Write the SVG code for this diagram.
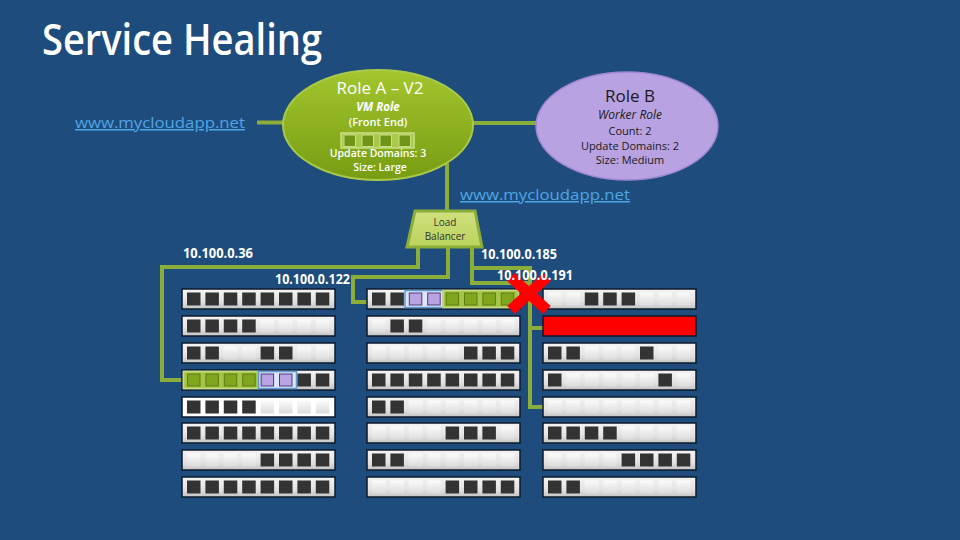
<svg xmlns="http://www.w3.org/2000/svg" xmlns:xlink="http://www.w3.org/1999/xlink" width="960" height="540" viewBox="0 0 960 540">
<defs>
<linearGradient id="rowg" x1="0" y1="0" x2="0" y2="1"><stop offset="0" stop-color="#f4f4f4"/><stop offset="0.6" stop-color="#e4e4e4"/><stop offset="1" stop-color="#c4c4c4"/></linearGradient>
<linearGradient id="emg" x1="0" y1="0" x2="0" y2="1"><stop offset="0" stop-color="#fbfbfb"/><stop offset="1" stop-color="#dcdcdc"/></linearGradient>
<linearGradient id="ag" x1="0" y1="0" x2="0" y2="1"><stop offset="0" stop-color="#a3c62e"/><stop offset="1" stop-color="#779c12"/></linearGradient>
<linearGradient id="lbg" x1="0" y1="0" x2="0" y2="1"><stop offset="0" stop-color="#cfe07e"/><stop offset="1" stop-color="#bcd35c"/></linearGradient>
<rect id="d" width="13.5" height="13" fill="#333333"/>
<rect id="e" width="13.5" height="13" fill="url(#emg)"/>
<rect id="g" width="12.5" height="12" fill="#7fa61c" stroke="#5c7c12" stroke-width="1"/>
<rect id="p" width="12.5" height="12" fill="#b9a3e3" stroke="#4d3a80" stroke-width="1"/>
<rect id="row" width="153" height="20" fill="url(#rowg)" stroke="#0c1a2c" stroke-width="1.5"/>
</defs>
<style>
.t{font-family:"Open Sans","Noto Sans","DejaVu Sans",sans-serif}
.w{fill:#ffffff}
.k{fill:#1a1a1a}
.ip{font-family:"Open Sans","Noto Sans",sans-serif;font-weight:bold;font-size:13.5px;fill:#ffffff}
.url{font-family:"Open Sans","Noto Sans",sans-serif;font-size:15px;fill:#4ea6e6;text-decoration:underline}
.ln{fill:none;stroke:#8bad3a;stroke-width:4}
</style>
<rect width="960" height="540" fill="#1e4c7c"/>
<text class="t w" x="42" y="55" font-size="44" font-weight="600" textLength="280" lengthAdjust="spacingAndGlyphs">Service Healing</text>

<g id="connectors">
<path class="ln" d="M257 122.5 H285"/>
<path class="ln" d="M471 123 H539"/>
<path class="ln" d="M447 163 V212"/>
<path class="ln" d="M418 246 V267 H162 V380 H184"/>
<path class="ln" d="M448 246 V277 H353 V302 H367"/>
<path class="ln" d="M472 246 V283 H530"/>
<path class="ln" d="M472 268 H530 V407 H543"/>
<path class="ln" d="M530 328 H543"/>
</g>

<g id="url-left"><text class="url" x="75" y="128" textLength="170" lengthAdjust="spacingAndGlyphs">www.mycloudapp.net</text></g>
<g id="url-right"><text class="url" x="460" y="200" textLength="170" lengthAdjust="spacingAndGlyphs">www.mycloudapp.net</text></g>

<g id="role-a">
<ellipse cx="378" cy="125" rx="95" ry="55" fill="url(#ag)" stroke="#a9c94a" stroke-width="2"/>
<text class="t w" x="380" y="94" font-size="17" text-anchor="middle">Role A – V2</text>
<text class="t w" x="378" y="111" font-size="11.5" font-weight="bold" font-style="italic" text-anchor="middle">VM Role</text>
<text class="t w" x="378" y="126" font-size="11" font-weight="600" text-anchor="middle">(Front End)</text>
<text class="t w" x="378" y="157" font-size="10.5" font-weight="600" text-anchor="middle">Update Domains: 3</text>
<text class="t w" x="380" y="171" font-size="10.5" font-weight="600" text-anchor="middle">Size: Large</text>
<rect x="341" y="133" width="73" height="15" fill="#a9c94a" stroke="#c9df86" stroke-width="1.5"/>
<rect x="344" y="135" width="11.5" height="11.5" fill="#6f9418" stroke="#c9df86" stroke-width="1"/>
<rect x="362" y="135" width="11.5" height="11.5" fill="#6f9418" stroke="#c9df86" stroke-width="1"/>
<rect x="380" y="135" width="11.5" height="11.5" fill="#6f9418" stroke="#c9df86" stroke-width="1"/>
<rect x="399" y="135" width="11.5" height="11.5" fill="#6f9418" stroke="#c9df86" stroke-width="1"/>
</g>

<g id="role-b">
<ellipse cx="627" cy="126" rx="91" ry="54" fill="#b8a2e2" stroke="#9c86d2" stroke-width="1.5"/>
<text class="t k" x="630" y="102" font-size="17" text-anchor="middle">Role B</text>
<text class="t k" x="630" y="119" font-size="12" font-style="italic" text-anchor="middle">Worker Role</text>
<text class="t k" x="630" y="135" font-size="11" text-anchor="middle">Count: 2</text>
<text class="t k" x="630" y="150" font-size="11" text-anchor="middle">Update Domains: 2</text>
<text class="t k" x="630" y="164" font-size="11" text-anchor="middle">Size: Medium</text>
</g>

<g id="load-balancer">
<polygon points="415,211 475,211 482,247 407,247" fill="url(#lbg)" stroke="#8bad3a" stroke-width="3"/>
<text class="t" x="445" y="226" font-size="10" fill="#333" text-anchor="middle">Load</text>
<text class="t" x="445" y="240" font-size="10" fill="#333" text-anchor="middle">Balancer</text>
</g>

<g id="rack-left" transform="translate(182,0)">
<g transform="translate(0,289)"><use href="#row"/><use href="#d" x="5" y="3.5"/><use href="#d" x="23.4" y="3.5"/><use href="#d" x="41.8" y="3.5"/><use href="#d" x="60.2" y="3.5"/><use href="#d" x="78.6" y="3.5"/><use href="#d" x="97" y="3.5"/><use href="#d" x="115.4" y="3.5"/><use href="#d" x="133.8" y="3.5"/></g>
<g transform="translate(0,316)"><use href="#row"/><use href="#d" x="5" y="3.5"/><use href="#d" x="23.4" y="3.5"/><use href="#d" x="41.8" y="3.5"/><use href="#d" x="60.2" y="3.5"/><use href="#e" x="78.6" y="3.5"/><use href="#e" x="97" y="3.5"/><use href="#e" x="115.4" y="3.5"/><use href="#e" x="133.8" y="3.5"/></g>
<g transform="translate(0,343)"><use href="#row"/><use href="#d" x="5" y="3.5"/><use href="#d" x="23.4" y="3.5"/><use href="#e" x="41.8" y="3.5"/><use href="#e" x="60.2" y="3.5"/><use href="#d" x="78.6" y="3.5"/><use href="#d" x="97" y="3.5"/><use href="#e" x="115.4" y="3.5"/><use href="#e" x="133.8" y="3.5"/></g>
<g transform="translate(0,370)"><use href="#row"/>
<rect x="1.5" y="1.5" width="75" height="17" fill="#a6c548" stroke="#c6dc80" stroke-width="1.5"/>
<rect x="76.5" y="1.5" width="38" height="17" fill="#dde6f4" stroke="#5b9bd5" stroke-width="1.5"/>
<use href="#g" x="5.5" y="4"/><use href="#g" x="23.9" y="4"/><use href="#g" x="42.3" y="4"/><use href="#g" x="60.7" y="4"/><use href="#p" x="79.1" y="4"/><use href="#p" x="97.5" y="4"/><use href="#d" x="115.4" y="3.5"/><use href="#d" x="133.8" y="3.5"/></g>
<g transform="translate(0,397)"><rect width="153" height="20" fill="#ffffff" stroke="#0c1a2c" stroke-width="1.5"/><use href="#d" x="5" y="3.5"/><use href="#d" x="23.4" y="3.5"/><use href="#d" x="41.8" y="3.5"/><use href="#d" x="60.2" y="3.5"/><use href="#e" x="78.6" y="3.5"/><use href="#e" x="97" y="3.5"/><use href="#e" x="115.4" y="3.5"/><use href="#e" x="133.8" y="3.5"/></g>
<g transform="translate(0,423)"><use href="#row"/><use href="#d" x="5" y="3.5"/><use href="#d" x="23.4" y="3.5"/><use href="#d" x="41.8" y="3.5"/><use href="#d" x="60.2" y="3.5"/><use href="#d" x="78.6" y="3.5"/><use href="#d" x="97" y="3.5"/><use href="#d" x="115.4" y="3.5"/><use href="#d" x="133.8" y="3.5"/></g>
<g transform="translate(0,450)"><use href="#row"/><use href="#e" x="5" y="3.5"/><use href="#e" x="23.4" y="3.5"/><use href="#e" x="41.8" y="3.5"/><use href="#e" x="60.2" y="3.5"/><use href="#d" x="78.6" y="3.5"/><use href="#d" x="97" y="3.5"/><use href="#d" x="115.4" y="3.5"/><use href="#d" x="133.8" y="3.5"/></g>
<g transform="translate(0,477)"><use href="#row"/><use href="#d" x="5" y="3.5"/><use href="#d" x="23.4" y="3.5"/><use href="#d" x="41.8" y="3.5"/><use href="#d" x="60.2" y="3.5"/><use href="#d" x="78.6" y="3.5"/><use href="#d" x="97" y="3.5"/><use href="#d" x="115.4" y="3.5"/><use href="#d" x="133.8" y="3.5"/></g>
</g>

<g id="rack-middle" transform="translate(367,0)">
<g transform="translate(0,289)"><use href="#row"/>
<rect x="38" y="1.5" width="38" height="17" fill="#dde6f4" stroke="#5b9bd5" stroke-width="1.5"/>
<rect x="76" y="1.5" width="75.5" height="17" fill="#a6c548" stroke="#c6dc80" stroke-width="1.5"/>
<use href="#d" x="5" y="3.5"/><use href="#d" x="23.4" y="3.5"/><use href="#p" x="42.3" y="4"/><use href="#p" x="60.7" y="4"/><use href="#g" x="79.1" y="4"/><use href="#g" x="97.5" y="4"/><use href="#g" x="115.9" y="4"/><use href="#g" x="134.3" y="4"/></g>
<g transform="translate(0,316)"><use href="#row"/><use href="#e" x="5" y="3.5"/><use href="#d" x="23.4" y="3.5"/><use href="#d" x="41.8" y="3.5"/><use href="#e" x="60.2" y="3.5"/><use href="#e" x="78.6" y="3.5"/><use href="#e" x="97" y="3.5"/><use href="#e" x="115.4" y="3.5"/><use href="#e" x="133.8" y="3.5"/></g>
<g transform="translate(0,343)"><use href="#row"/><use href="#e" x="5" y="3.5"/><use href="#e" x="23.4" y="3.5"/><use href="#e" x="41.8" y="3.5"/><use href="#e" x="60.2" y="3.5"/><use href="#e" x="78.6" y="3.5"/><use href="#d" x="97" y="3.5"/><use href="#d" x="115.4" y="3.5"/><use href="#d" x="133.8" y="3.5"/></g>
<g transform="translate(0,370)"><use href="#row"/><use href="#d" x="5" y="3.5"/><use href="#d" x="23.4" y="3.5"/><use href="#d" x="41.8" y="3.5"/><use href="#d" x="60.2" y="3.5"/><use href="#d" x="78.6" y="3.5"/><use href="#d" x="97" y="3.5"/><use href="#d" x="115.4" y="3.5"/><use href="#d" x="133.8" y="3.5"/></g>
<g transform="translate(0,397)"><use href="#row"/><use href="#d" x="5" y="3.5"/><use href="#d" x="23.4" y="3.5"/><use href="#e" x="41.8" y="3.5"/><use href="#e" x="60.2" y="3.5"/><use href="#e" x="78.6" y="3.5"/><use href="#e" x="97" y="3.5"/><use href="#e" x="115.4" y="3.5"/><use href="#e" x="133.8" y="3.5"/></g>
<g transform="translate(0,423)"><use href="#row"/><use href="#e" x="5" y="3.5"/><use href="#e" x="23.4" y="3.5"/><use href="#e" x="41.8" y="3.5"/><use href="#e" x="60.2" y="3.5"/><use href="#d" x="78.6" y="3.5"/><use href="#d" x="97" y="3.5"/><use href="#d" x="115.4" y="3.5"/><use href="#e" x="133.8" y="3.5"/></g>
<g transform="translate(0,450)"><use href="#row"/><use href="#d" x="5" y="3.5"/><use href="#d" x="23.4" y="3.5"/><use href="#e" x="41.8" y="3.5"/><use href="#e" x="60.2" y="3.5"/><use href="#e" x="78.6" y="3.5"/><use href="#e" x="97" y="3.5"/><use href="#e" x="115.4" y="3.5"/><use href="#e" x="133.8" y="3.5"/></g>
<g transform="translate(0,477)"><use href="#row"/><use href="#e" x="5" y="3.5"/><use href="#e" x="23.4" y="3.5"/><use href="#e" x="41.8" y="3.5"/><use href="#e" x="60.2" y="3.5"/><use href="#d" x="78.6" y="3.5"/><use href="#d" x="97" y="3.5"/><use href="#d" x="115.4" y="3.5"/><use href="#d" x="133.8" y="3.5"/></g>
</g>

<g id="rack-right" transform="translate(543,0)">
<g transform="translate(0,289)"><use href="#row"/><use href="#e" x="5" y="3.5"/><use href="#e" x="23.4" y="3.5"/><use href="#d" x="41.8" y="3.5"/><use href="#d" x="60.2" y="3.5"/><use href="#d" x="78.6" y="3.5"/><use href="#e" x="97" y="3.5"/><use href="#e" x="115.4" y="3.5"/><use href="#e" x="133.8" y="3.5"/></g>
<g id="failed-server" transform="translate(0,316)"><rect width="153" height="20" fill="#ff0000" stroke="#0c1a2c" stroke-width="1.5"/></g>
<g transform="translate(0,343)"><use href="#row"/><use href="#d" x="5" y="3.5"/><use href="#d" x="23.4" y="3.5"/><use href="#e" x="41.8" y="3.5"/><use href="#e" x="60.2" y="3.5"/><use href="#e" x="78.6" y="3.5"/><use href="#d" x="97" y="3.5"/><use href="#e" x="115.4" y="3.5"/><use href="#e" x="133.8" y="3.5"/></g>
<g transform="translate(0,370)"><use href="#row"/><use href="#d" x="5" y="3.5"/><use href="#e" x="23.4" y="3.5"/><use href="#e" x="41.8" y="3.5"/><use href="#e" x="60.2" y="3.5"/><use href="#e" x="78.6" y="3.5"/><use href="#e" x="97" y="3.5"/><use href="#d" x="115.4" y="3.5"/><use href="#e" x="133.8" y="3.5"/></g>
<g transform="translate(0,397)"><use href="#row"/><use href="#e" x="5" y="3.5"/><use href="#e" x="23.4" y="3.5"/><use href="#e" x="41.8" y="3.5"/><use href="#e" x="60.2" y="3.5"/><use href="#e" x="78.6" y="3.5"/><use href="#e" x="97" y="3.5"/><use href="#e" x="115.4" y="3.5"/><use href="#e" x="133.8" y="3.5"/></g>
<g transform="translate(0,423)"><use href="#row"/><use href="#d" x="5" y="3.5"/><use href="#d" x="23.4" y="3.5"/><use href="#d" x="41.8" y="3.5"/><use href="#d" x="60.2" y="3.5"/><use href="#e" x="78.6" y="3.5"/><use href="#e" x="97" y="3.5"/><use href="#e" x="115.4" y="3.5"/><use href="#e" x="133.8" y="3.5"/></g>
<g transform="translate(0,450)"><use href="#row"/><use href="#e" x="5" y="3.5"/><use href="#e" x="23.4" y="3.5"/><use href="#e" x="41.8" y="3.5"/><use href="#e" x="60.2" y="3.5"/><use href="#d" x="78.6" y="3.5"/><use href="#d" x="97" y="3.5"/><use href="#d" x="115.4" y="3.5"/><use href="#d" x="133.8" y="3.5"/></g>
<g transform="translate(0,477)"><use href="#row"/><use href="#d" x="5" y="3.5"/><use href="#d" x="23.4" y="3.5"/><use href="#e" x="41.8" y="3.5"/><use href="#e" x="60.2" y="3.5"/><use href="#e" x="78.6" y="3.5"/><use href="#e" x="97" y="3.5"/><use href="#e" x="115.4" y="3.5"/><use href="#e" x="133.8" y="3.5"/></g>
</g>

<g id="failure-x">
<path d="M511 277 L547 310 M547 277 L511 310" stroke="#ff0000" stroke-width="11" fill="none"/>
</g>

<g id="ip-labels">
<text class="ip" x="183" y="258" textLength="70" lengthAdjust="spacingAndGlyphs">10.100.0.36</text>
<text class="ip" x="275" y="284" textLength="75" lengthAdjust="spacingAndGlyphs">10.100.0.122</text>
<text class="ip" x="481" y="259" textLength="76" lengthAdjust="spacingAndGlyphs">10.100.0.185</text>
<text class="ip" x="497" y="280" textLength="76" lengthAdjust="spacingAndGlyphs">10.100.0.191</text>
</g>
</svg>
